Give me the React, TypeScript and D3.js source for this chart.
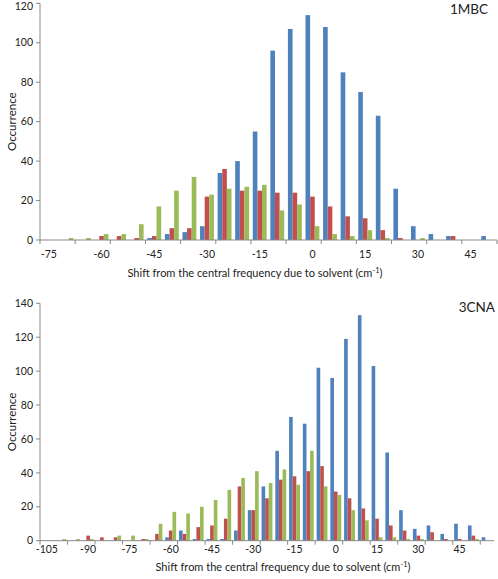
import React from "react";
import * as d3 from "d3";

// ---- Data ----
const seriesColors = ["#4F81BD", "#C0504D", "#9BBB59"];

// Panel 1: 1MBC, categories -75..50 step 5
const cats1 = [-75, -70, -65, -60, -55, -50, -45, -40, -35, -30, -25, -20, -15, -10, -5, 0, 5, 10, 15, 20, 25, 30, 35, 40, 45, 50];
const blue1 = [0, 0, 0, 0, 0, 0, 1, 3, 4, 7, 34, 40, 55, 96, 107, 114, 108, 85, 75, 63, 26, 7, 3, 2, 0, 2];
const red1 = [0, 0, 0, 2, 2, 1, 2, 6, 6, 22, 36, 25, 25, 24, 24, 22, 17, 12, 11, 5, 1, 0, 0, 2, 0, 0];
const green1 = [0, 1, 1, 3, 3, 8, 17, 25, 32, 23, 26, 27, 28, 15, 18, 7, 3, 2, 5, 1, 0, 1, 0, 0, 0, 0];
const yTicks1 = [0, 20, 40, 60, 80, 100, 120];

// Panel 2: 3CNA, categories -105..55 step 5
const cats2 = [-105, -100, -95, -90, -85, -80, -75, -70, -65, -60, -55, -50, -45, -40, -35, -30, -25, -20, -15, -10, -5, 0, 5, 10, 15, 20, 25, 30, 35, 40, 45, 50, 55];
const blue2 = [0, 0, 0, 0, 0, 0, 0, 0, 0, 2, 6, 1, 1, 1, 6, 18, 32, 53, 73, 69, 102, 96, 119, 133, 103, 52, 18, 7, 9, 4, 10, 9, 2];
const red2 = [0, 0, 0, 3, 2, 2, 0, 1, 4, 6, 4, 8, 9, 13, 32, 18, 25, 36, 38, 41, 44, 29, 25, 19, 13, 9, 6, 3, 5, 1, 1, 3, 0];
const green2 = [0, 1, 1, 1, 0, 3, 3, 1, 10, 17, 16, 20, 24, 30, 37, 41, 34, 42, 33, 53, 32, 27, 18, 12, 2, 2, 1, 1, 0, 0, 0, 1, 0];
const yTicks2 = [0, 20, 40, 60, 80, 100, 120, 140];

const FONT = "Lato, 'Open Sans', sans-serif";
const AXIS = "#888";
const TEXT = "#222";

type PanelProps = {
  cats: number[];
  series: number[][];
  yTicks: number[];
  yMax: number;
  x0: number;
  x1: number;
  yTop: number;
  yBottom: number;
  label: string;
  labelX: number;
  labelY: number;
  titleX: number;
  titleY: number;
  tickLabelY: number;
};

function Panel(p: PanelProps) {
  const x = d3
    .scaleBand<number>()
    .domain(p.cats)
    .range([p.x0, p.x1])
    .paddingInner(0)
    .paddingOuter(0);
  const w = x.bandwidth();
  const bw = w / 3.8;
  const y = d3.scaleLinear().domain([0, p.yMax]).range([p.yBottom, p.yTop]);
  const sub = d3
    .scaleBand<number>()
    .domain([0, 1, 2])
    .range([(w - 3 * bw) / 2, (w + 3 * bw) / 2]);
  const tickXs: number[] = [];
  for (let i = 0; i <= p.cats.length; i += 2) tickXs.push(p.x0 + i * w);
  return (
    <g>
      {p.series.map((vals, si) =>
        vals.map((v, i) =>
          v > 0 ? (
            <rect
              key={`${si}-${i}`}
              x={(x(p.cats[i]) as number) + (sub(si) as number)}
              y={y(v)}
              width={bw}
              height={p.yBottom - y(v)}
              fill={seriesColors[si]}
            />
          ) : null
        )
      )}
      {/* y axis */}
      <line x1={p.x0} x2={p.x0} y1={p.yTop} y2={p.yBottom} stroke={AXIS} strokeWidth={1} />
      {p.yTicks.map((t) => (
        <g key={t}>
          <line x1={p.x0 - 4} x2={p.x0} y1={y(t)} y2={y(t)} stroke={AXIS} />
          <text
            x={p.x0 - 7}
            y={Math.max(y(t), 6)}
            dy="0.35em"
            textAnchor="end"
            fontSize={10.5}
            fontFamily={FONT}
            fill={TEXT}
          >
            {t}
          </text>
        </g>
      ))}
      {/* x axis */}
      <line x1={p.x0} x2={p.x1} y1={p.yBottom} y2={p.yBottom} stroke={AXIS} strokeWidth={1} />
      {tickXs.map((tx, i) => (
        <line key={i} x1={tx} x2={tx} y1={p.yBottom} y2={p.yBottom + 4} stroke={AXIS} />
      ))}
      {p.cats.map((c, i) =>
        i % 3 === 0 ? (
          <text
            key={c}
            x={(x(c) as number) + w / 2}
            y={p.tickLabelY}
            textAnchor="middle"
            fontSize={10.5}
            fontFamily={FONT}
            fill={TEXT}
          >
            {c}
          </text>
        ) : null
      )}
      <text
        x={p.titleX}
        y={p.titleY}
        textAnchor="middle"
        fontSize={11}
        fontFamily={FONT}
        fill={TEXT}
      >
        Shift from the central frequency due to solvent (cm
        <tspan dy={-4} fontSize={7.5}>-1</tspan>
        <tspan dy={4}>)</tspan>
      </text>
      <text
        transform={`translate(16,${(p.yTop + p.yBottom) / 2}) rotate(-90)`}
        textAnchor="middle"
        fontSize={11.5}
        fontFamily={FONT}
        fill={TEXT}
      >
        Occurrence
      </text>
      <text x={p.labelX} y={p.labelY} textAnchor="end" fontSize={13.5} fontFamily={FONT} fill={TEXT}>
        {p.label}
      </text>
    </g>
  );
}

export default function App() {
  return (
    <svg
      width={498}
      height={579}
      style={{ position: "absolute", left: 0, top: 0, background: "#fff" }}
    >
      <Panel
        cats={cats1}
        series={[blue1, red1, green1]}
        yTicks={yTicks1}
        yMax={120}
        x0={40}
        x1={497}
        yTop={3.3}
        yBottom={240}
        label="1MBC"
        labelX={488}
        labelY={14}
        titleX={255}
        titleY={277}
        tickLabelY={258}
      />
      <Panel
        cats={cats2}
        series={[blue2, red2, green2]}
        yTicks={yTicks2}
        yMax={140}
        x0={40}
        x1={494}
        yTop={303.3}
        yBottom={540.7}
        label="3CNA"
        labelX={495}
        labelY={312}
        titleX={283}
        titleY={571}
        tickLabelY={553}
      />
    </svg>
  );
}
